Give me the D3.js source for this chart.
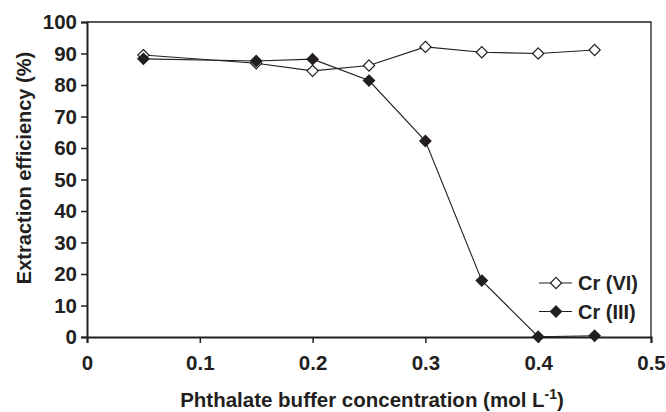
<!DOCTYPE html>
<html>
<head>
<meta charset="utf-8">
<script src="https://cdn.jsdelivr.net/npm/d3@7"></script>
<style>
  html, body { margin: 0; padding: 0; background: #fff; }
  svg { display: block; font-family: "Liberation Sans", Arial, sans-serif; font-weight: bold; }
</style>
</head>
<body>
<svg id="chart" width="666" height="412"></svg>
<script>
// Phthalate buffer concentration (mol/L)
const concentration = [0.05, 0.15, 0.2, 0.25, 0.3, 0.35, 0.4, 0.45];
// Extraction efficiency (%)
const crVI  = [89.5, 86.9, 84.5, 86.2, 92.1, 90.4, 90.0, 91.1];
const crIII = [88.3, 87.6, 88.2, 81.4, 62.2, 17.9, 0.1, 0.4];
const xTicks = [0, 0.1, 0.2, 0.3, 0.4, 0.5];
const yTicks = [0, 10, 20, 30, 40, 50, 60, 70, 80, 90, 100];
const seriesNames = ["Cr (VI)", "Cr (III)"];

const svg = d3.select("#chart");
const m = { left: 87, right: 15, top: 22, bottom: 75 };
const W = 666, H = 412;
const x = d3.scaleLinear().domain([0, 0.5]).range([m.left, W - m.right]);
const y = d3.scaleLinear().domain([0, 100]).range([H - m.bottom, m.top]);
const ink = "#231f20";

// plot frame (top and right)
svg.append("path")
  .attr("d", `M${x(0)},${y(100)}H${x(0.5)}V${y(0)}`)
  .attr("fill", "none").attr("stroke", ink).attr("stroke-width", 1.3);

// axes
const xAxis = svg.append("g").attr("transform", `translate(0,${y(0)})`)
  .call(d3.axisBottom(x).tickValues(xTicks).tickSize(6).tickPadding(12)
    .tickFormat(d => d === 0 ? "0" : d3.format(".1f")(d)));
const yAxis = svg.append("g").attr("transform", `translate(${x(0)},0)`)
  .call(d3.axisLeft(y).tickValues(yTicks).tickSize(6).tickPadding(4));
[xAxis, yAxis].forEach(g => {
  g.select(".domain").attr("stroke", ink).attr("stroke-width", 2);
  g.selectAll(".tick line").attr("stroke", ink).attr("stroke-width", 1.5);
  g.selectAll(".tick text").attr("fill", ink).attr("font-size", 20.5)
    .attr("font-family", "Liberation Sans, Arial, sans-serif").attr("font-weight", "bold");
});

// axis titles
const xTitle = svg.append("text")
  .attr("x", (x(0) + x(0.5)) / 2 + 3).attr("y", 407)
  .attr("text-anchor", "middle").attr("font-size", 20.5).attr("fill", ink);
xTitle.append("tspan").text("Phthalate buffer concentration (mol L");
xTitle.append("tspan").attr("dy", -8).attr("font-size", 14).text("-1");
xTitle.append("tspan").attr("dy", 8).text(")");

svg.append("text")
  .attr("transform", `translate(31,168) rotate(-90)`)
  .attr("text-anchor", "middle").attr("font-size", 20).attr("fill", ink)
  .text("Extraction efficiency (%)");

// series
const diamond = d3.symbol().type(d3.symbolDiamond2).size(80);
const series = [
  { name: seriesNames[0], values: crVI, fill: "#fff" },
  { name: seriesNames[1], values: crIII, fill: ink }
];
const line = d3.line().x(d => x(d[0])).y(d => y(d[1]));

series.forEach(s => {
  const pts = concentration.map((c, i) => [c, s.values[i]]);
  svg.append("path").datum(pts).attr("d", line)
    .attr("fill", "none").attr("stroke", ink).attr("stroke-width", 1.1);
});
series.forEach(s => {
  const pts = concentration.map((c, i) => [c, s.values[i]]);
  svg.append("g").selectAll("path").data(pts).join("path")
    .attr("transform", d => `translate(${x(d[0])},${y(d[1])})`)
    .attr("d", diamond).attr("fill", s.fill).attr("stroke", ink).attr("stroke-width", 1.2);
});

// legend
const legend = svg.append("g").attr("transform", "translate(539,283)");
series.forEach((s, i) => {
  const g = legend.append("g").attr("transform", `translate(0,${i * 28.5})`);
  g.append("line").attr("x1", 0).attr("x2", 33).attr("y1", 0).attr("y2", 0)
    .attr("stroke", ink).attr("stroke-width", 1.1);
  g.append("path").attr("transform", "translate(17,0)").attr("d", diamond)
    .attr("fill", s.fill).attr("stroke", ink).attr("stroke-width", 1.2);
  g.append("text").attr("x", 39).attr("y", 7).attr("font-size", 20).attr("fill", ink)
    .text(s.name);
});
</script>
</body>
</html>
